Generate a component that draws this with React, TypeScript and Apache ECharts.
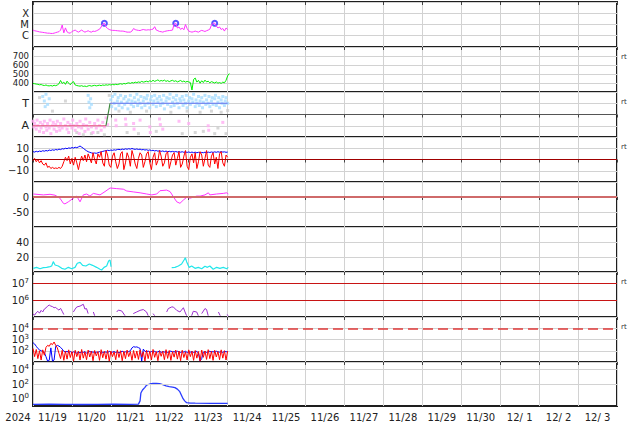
import React, { useEffect, useRef } from 'react';
import * as echarts from 'echarts';

// ---------- axis / text labels ----------
const dayLabels = ['11/19', '11/20', '11/21', '11/22', '11/23', '11/24', '11/25', '11/26', '11/27', '11/28', '11/29', '11/30', '12/ 1', '12/ 2', '12/ 3'];
const yearLabel = '2024';
const xrayClassLabels: Record<number, string> = { [-6]: 'C', [-5]: 'M', [-4]: 'X' };
const sectorLabels: Record<number, string> = { 1: 'T', [-1]: 'A' };
const rtPanels = [1, 2, 3, 6, 7];

// ---------- data (x = hours since 2024-11-19 00:00) ----------
// X-ray flux, hourly, in units of 1e-6 W/m2
const xrayHourly = [
  3.2, 2.8, 2.6, 2.4, 2.2, 2.1, 2.0, 1.9, 1.8, 1.7,
  1.7, 1.6, 1.6, 1.7, 1.9, 2.1, 2.3, 3.2, 9.0, 1.8,
  5.0, 2.2, 1.8, 1.7, 2.4, 2.8, 3.2, 2.5, 2.1, 2.6,
  3.2, 2.5, 2.1, 2.4, 2.8, 2.3, 2.1, 2.6, 2.4, 2.7,
  3.2, 3.8, 6.0, 11, 13, 6.0, 4.4, 3.6, 3.2, 3.0,
  3.0, 2.9, 2.8, 2.7, 2.6, 2.6, 2.5, 2.3, 2.1, 2.1,
  2.1, 2.6, 4.4, 3.5, 3.2, 3.0, 2.9, 3.3, 3.6, 3.3,
  3.2, 3.4, 3.3, 3.6, 3.9, 6.4, 3.2, 2.8, 2.4, 2.3,
  2.1, 2.4, 2.6, 2.8, 2.9, 3.0, 3.2, 11, 13, 4.9,
  6.0, 3.6, 4.9, 3.4, 10, 4.4, 2.6, 2.3, 2.1, 2.3,
  2.6, 2.3, 2.1, 2.6, 3.0, 2.7, 2.4, 2.8, 3.2, 3.8,
  9.0, 13, 13, 7.3, 4.9, 6.0, 3.6, 4.4, 2.6, 4.9, 3.6,
];
const flareHours = [44, 88, 112];
const flareFlux = [13, 13, 13];

// Solar wind speed km/s, hourly
const speedHourly = [
  396, 392, 388, 385, 380, 383, 376, 372, 378, 370,
  368, 372, 366, 375, 370, 378, 392, 428, 395, 410,
  385, 420, 398, 380, 405, 415, 378, 372, 368, 365,
  370, 362, 366, 360, 368, 372, 365, 370, 374, 368,
  372, 376, 370, 378, 374, 380, 376, 382, 378, 384,
  380, 386, 382, 388, 392, 386, 395, 390, 398, 402,
  396, 405, 400, 410, 404, 412, 406, 418, 410, 414,
  420, 412, 425, 416, 430, 418, 426, 435, 420, 428,
  422, 432, 418, 426, 415, 424, 430, 418, 425, 412,
  420, 428, 414, 422, 410, 418, 412, 405, 322, 440,
  455, 410, 430, 398, 425, 405, 432, 412, 420, 402,
  415, 408, 400, 412, 398, 405, 396, 410, 402, 430, 480, 505,
];

// Sector: +1 = T, -1 = A
const sectorHours = [0, 45, 47.5, 120];
const sectorValues = [-1, -1, 1, 1];
const sectorTowardDots = [
  [6, 1.6], [7, 1.2], [7.5, 0.7], [8, 1.8], [9, 0.9], [10, 1.4], [34, 1.7], [34.5, 1.1], [35, 0.6], [35.5, 1.4], [36, 0.9],
  [48, 1.3], [48.5, 0.7], [49, 1.6], [50, 1.0], [50.5, 1.8], [51, 0.5], [52, 1.2], [52.5, 1.5], [53, 0.8], [54, 1.7], [54.5, 1.1],
  [55, 0.6], [56, 1.4], [56.5, 0.9], [57, 1.6], [58, 1.1], [58.5, 0.5], [59, 1.3], [60, 1.7], [60.5, 0.9], [61, 1.2], [62, 0.7],
  [62.5, 1.5], [63, 1.1], [64, 1.8], [64.5, 0.8], [65, 1.3], [66, 1.0], [66.5, 1.6], [67, 0.6], [68, 1.2], [68.5, 1.5], [69, 0.8],
  [70, 1.4], [70.5, 1.7], [71, 1.0], [72, 0.6], [72.5, 1.3], [73, 1.6], [74, 0.9], [74.5, 1.2], [75, 1.7], [76, 0.7], [76.5, 1.4],
  [77, 1.1], [78, 1.6], [78.5, 0.8], [79, 1.3], [80, 1.0], [80.5, 1.7], [81, 0.5], [82, 1.2], [82.5, 1.5], [83, 0.9], [84, 1.4],
  [84.5, 1.8], [85, 0.7], [86, 1.1], [86.5, 1.5], [87, 0.8], [88, 1.3], [88.5, 1.7], [89, 1.0], [90, 0.6], [90.5, 1.4], [91, 1.2],
  [92, 1.6], [92.5, 0.8], [93, 1.3], [94, 1.0], [94.5, 1.7], [95, 0.6], [96, 1.2], [96.5, 1.5], [97, 0.9], [98, 1.4], [98.5, 1.1],
  [99, 1.8], [100, 0.7], [100.5, 1.3], [101, 1.0], [102, 1.6], [102.5, 0.8], [103, 1.2], [104, 1.5], [104.5, 0.6], [105, 1.1],
  [106, 1.7], [106.5, 0.9], [107, 1.3], [108, 1.0], [108.5, 1.6], [109, 0.7], [110, 1.2], [110.5, 1.5], [111, 0.9], [112, 1.4],
  [112.5, 1.7], [113, 0.8], [114, 1.1], [114.5, 1.5], [115, 0.6], [116, 1.3], [116.5, 1.0], [117, 1.6], [118, 0.8], [118.5, 1.2],
  [119, 1.5], [120, 1.0],
];
const sectorAwayDots = [
  [0, -0.6], [0.5, -1.1], [1, -0.8], [2, -1.3], [2.5, -0.5], [3, -1.0], [4, -1.5], [4.5, -0.7], [5, -1.2], [6, -0.9], [6.5, -1.6],
  [7, -0.6], [8, -1.1], [8.5, -1.4], [9, -0.8], [10, -1.2], [10.5, -0.5], [11, -1.7], [12, -1.0], [12.5, -0.7], [13, -1.3],
  [14, -0.9], [14.5, -1.5], [15, -0.6], [16, -1.1], [16.5, -1.4], [17, -0.8], [18, -1.2], [19, -0.4], [20, -1.0], [21, -1.3],
  [21.5, -0.7], [22, -1.6], [23, -0.9], [24, -1.2], [24.5, -0.5], [25, -1.0], [26, -1.4], [27, -0.8], [28, -1.1], [28.5, -1.7],
  [29, -0.6], [30, -1.2], [31, -0.9], [32, -1.5], [32.5, -0.4], [33, -1.0], [34, -1.3], [35, -0.7], [36, -1.1], [37, -1.6],
  [38, -0.8], [39, -1.2], [40, -0.5], [41, -1.0], [42, -1.4], [43, -0.7], [44, -1.1], [45, -0.3], [46, -0.9],
  [51, -0.5], [51.3, -1.0], [57, -0.4], [57.3, -0.9], [62, -0.8], [62.3, -1.3], [66, -0.5], [72, -1.1], [72.3, -1.6],
  [78, -0.4], [78.5, -0.9], [80, -1.3], [90, -0.6], [96, -0.8], [108, -1.0], [108.3, -1.4], [117, -0.7],
];
const sectorGrayDots = [
  [4, 1.5], [12, 0.3], [20, 1.2], [27, -1.6], [31, -1.8], [36, -1.7], [40, -1.6], [44, -1.8], [47, 1.7], [53, 0.3], [58, -1.6],
  [60, 0.2], [65, -1.7], [70, 0.3], [76, -1.5], [85, 0.2], [92, -1.7], [95, 0.3], [100, -1.6], [103, 0.2], [105, -1.5],
  [110, 0.3], [112, -1.7], [114, -1.2], [116, 0.2], [119, -1.7], [120, 0.35],
];

// IMF Bt and Bz (nT), hourly
const btHourly = [
  7.0, 6.6, 7.3, 6.8, 7.5, 7.1, 7.8, 7.4, 8.0, 7.6,
  8.4, 8.0, 8.6, 8.2, 8.9, 8.5, 9.2, 8.8, 9.6, 9.3,
  10.0, 9.6, 10.3, 10.0, 10.6, 10.2, 10.9, 10.5, 11.2, 12.0,
  11.0, 10.0, 8.8, 7.8, 6.9, 6.4, 5.9, 5.5, 5.8, 5.5,
  6.0, 6.4, 6.8, 7.2, 7.6, 7.8, 8.2, 7.9, 8.4, 8.1,
  8.6, 8.3, 8.9, 9.0, 8.7, 9.3, 8.9, 9.5, 9.1, 9.6,
  9.2, 9.8, 9.3, 9.0, 9.4, 8.9, 9.2, 8.6, 8.9, 8.4,
  8.7, 8.1, 8.5, 7.9, 8.2, 7.6, 8.0, 7.4, 7.8, 7.2,
  7.6, 7.0, 7.5, 6.9, 7.3, 6.8, 7.2, 6.7, 7.1, 6.6,
  7.0, 6.5, 6.9, 6.4, 6.8, 6.3, 6.7, 6.2, 6.6, 6.1,
  6.5, 6.0, 6.4, 5.9, 6.3, 6.0, 6.5, 6.1, 6.6, 6.2,
  6.7, 6.3, 6.8, 6.4, 6.9, 6.5, 7.0, 6.6, 6.8, 6.4, 6.6,
];
const bzHourly = [
  -1, 1, -2, 0, -3, -1, -4, -5, -3, -7,
  -6, -8, -7, -8, -7.5, -8, -7, -8, -6, -2,
  2, -1, 3, -4, 1, -5, 2, -3, -9, -2,
  3, -1, 4, -2, 5, 1, -3, 6, 0, -4,
  5, 2, 7, -3, -6, 8, 4, -5, -7, 3,
  6, -2, -8, -4, 5, 7, -9, -3, 6, 2,
  -6, 8, 3, -4, -8, 1, 6, 4, -7, -2,
  5, 7, -3, -9, 2, 6, -5, -1, 8, 3,
  -6, -3, 5, 7, -8, -2, 4, 6, -5, 1,
  7, -7, -4, 3, 8, -6, -9, 2, 5, -3,
  6, -8, -2, 7, 4, -6, 1, 8, -5, -7,
  3, 6, -4, 2, -8, 5, 7, -3, -6, 4, 2,
];

// Dst (nT)
const dstHours = [0.2, 6.4, 10.5, 13.6, 16.6, 18.7, 19.7, 21.8, 24.9, 26.9, 29, 31, 33.1, 35.1, 37.2, 41.3, 44.4, 47.5, 51.6, 55.7, 57.8, 61.8, 66, 70.1, 73.2, 76.3, 78.3, 82.4, 84.5, 86.5, 88.6, 90.6, 92.7, 94.8, 96.8, 100.9, 103, 106, 108.1, 109, 113.2, 117.3, 119.4, 120.4];
const dstValues = [10, 7, 9, 6, -4, -21, -23, -16, -4, 3, -16, 7, 10, 3, 12, 7, 18, 30, 28, 26, 20, 17, 14, 10, 7, 10, 21, 23, 18, 1, -16, -21, -10, -1, -4, 3, 3, 7, 14, 7, 10, 12, 14, 10];

// cyan index (null = gap)
const cyanHours = [0.2, 2.2, 4.3, 6.4, 8.4, 10.5, 11.5, 12.5, 13.6, 15.6, 17.7, 19.7, 21.8, 23.8, 25.9, 27.3, 29, 30.6, 32.6, 34.7, 36.7, 39.2, 41.3, 42.3, 43.8, 45.4, 46.6, 47.5, 48.1,
  66,
  85.5, 87.5, 89.6, 91.6, 93.1, 93.9, 94.7, 96.2, 97.8, 99.9, 101.9, 104, 106, 107.5, 109, 111.1, 113.2, 115.2, 117.3, 119.4, 120.4];
const cyanValues = [4.9, 6.2, 4.4, 5.8, 6.2, 7.1, 8, 13.8, 9.3, 8, 4.9, 3.6, 6.2, 4.4, 6.2, 11.6, 12.9, 8.9, 8, 10.7, 8.9, 6.2, 3.6, 2.7, 6.2, 8, 14.7, 16, 7,
  null,
  5.8, 6.2, 8, 10.7, 16, 19, 13.8, 6.2, 8, 4.9, 6.2, 4.4, 7.6, 6.2, 8, 3.6, 6.2, 4.9, 6.2, 4.4, 6.2];

// electron flux (units of 1e5), null = gap
const elecHours = [0, 1, 2, 3, 4, 5, 6, 7, 8, 9, 10, 11, 12, 13, 14, 15, 16, 17, 18, 19, 21, 24.9, 26, 27, 29, 31, 32, 33, 34, 35.5, 37.2, 38, 40, 51.6, 52.6, 54.7, 56.7, 58, 61.8, 63.9, 66, 68, 70, 71, 72.5, 74, 75, 78, 82.4, 83.4, 85.5, 86.5, 88.6, 90.6, 92.7, 93.7, 94.7, 96, 97.8, 98.8, 100.9, 101.9, 103, 104, 106, 107, 108, 110, 114.3, 115.4, 117, 119.5, 120.4];
const elecValues = [1.5, 1.3, 1.8, 2.2, 1.7, 2.5, 2.0, 3.0, 3.5, 4.5, 5.2, 4.5, 4.2, 3.6, 3.8, 3.0, 2.6, 3.3, 2.2, 1.4, null, 2.0, 3.0, 4.0, 4.5, 5.8, 3.0, 3.2, 1.6, null, 2.0, 1.2, null, 2.0, 2.6, 2.3, 1.2, null, 1.6, 2.0, 2.5, 2.8, 2.0, 1.2, null, 1.6, 1.2, null, 2.0, 3.2, 4.0, 4.0, 2.5, 2.0, 3.6, 2.0, 1.2, null, 1.2, 2.2, 2.0, 1.2, null, 1.6, 3.2, 2.8, 1.2, null, 2.0, 1.2, null, 1.4, 1.2];

// low-energy particle flux, hourly
const lowBlueHourly = [
  520, 400, 250, 160, 120, 100, 85, 70, 30, 12,
  14, 180, 12, 15, 250, 300, 260, 200, 140, 90,
  75, 90, 70, 85, 65, 80, 70, 60, 75, 65,
  80, 70, 85, 60, 75, 90, 70, 80, 65, 75,
  70, 85, 60, 75, 70, 80, 65, 90, 70, 75,
  85, 70, 80, 65, 75, 90, 70, 80, 75, 85,
  100, 180, 230, 210, 220, 190, 160, 12, 140, 90,
  80, 95, 70, 85, 75, 90, 70, 80, 95, 70,
  85, 75, 90, 70, 80, 95, 75, 85, 70, 90,
  80, 70, 85, 75, 90, 70, 80, 75, 85, 70,
  80, 90, 60, 12, 20, 75, 85, 70, 80, 90,
  75, 85, 70, 90, 80, 75, 85, 70, 90, 80, 85,
];
const lowRedHourly = [
  160, 30, 130, 20, 100, 15, 120, 40, 200, 300,
  250, 450, 350, 600, 300, 180, 60, 20, 110, 14,
  95, 18, 120, 25, 85, 12, 110, 30, 90, 15,
  130, 22, 80, 16, 115, 28, 95, 13, 105, 35,
  85, 14, 125, 24, 90, 18, 110, 12, 95, 30,
  80, 16, 120, 25, 100, 13, 90, 20, 115, 30,
  85, 14, 105, 22, 95, 17, 120, 28, 80, 12,
  110, 20, 95, 15, 130, 26, 85, 13, 100, 32,
  90, 16, 125, 21, 105, 14, 85, 27, 115, 18,
  95, 13, 110, 25, 80, 15, 120, 30, 90, 14,
  105, 22, 85, 12, 115, 26, 95, 17, 125, 20,
  90, 14, 110, 28, 85, 16, 120, 22, 100, 15, 95,
];

// proton flux
const protonHours = [0, 10, 20, 30, 40, 50, 60, 65, 66, 66.5, 67.5, 69, 70, 72, 74, 76, 78, 80, 82, 84, 86, 87.5, 89, 90.5, 91.5, 92.5, 93.5, 94.7, 97, 100, 110, 120];
const protonValues = [0.17, 0.18, 0.17, 0.16, 0.17, 0.18, 0.17, 0.18, 0.5, 6, 15, 35, 70, 100, 120, 125, 110, 80, 55, 45, 38, 32, 20, 9, 3, 1, 0.5, 0.28, 0.25, 0.24, 0.23, 0.23];

// ---------- layout ----------
const FONT = 'DejaVu Sans';
const LEFT = 33;
const RIGHT = 17;
const TOP0 = 2;
const PH = 45;
const NP = 9;

const H = (arr: number[]) => arr.map((v, i) => [i, v]);
const P = (hs: number[], vs: (number | null)[]) => hs.map((h, i) => [h, vs[i]]);

const supRich = {
  b: { fontSize: 10, fontFamily: FONT, color: '#222' },
  s: { fontSize: 7, fontFamily: FONT, color: '#222', verticalAlign: 'top' as const, padding: [0, 0, 5, 0] },
};
const expLabel = (shown: number[]) => (v: number) => {
  const e = Math.log10(v);
  const r = Math.round(e);
  if (Math.abs(e - r) > 1e-6 || !shown.includes(r)) return '';
  return `{b|10}{s|${r}}`;
};
const hline = (y: number, color: string, width: number, type: any = 'solid') => ({
  silent: true,
  symbol: ['none', 'none'],
  label: { show: false },
  lineStyle: { color, width, type },
  data: [{ yAxis: y }],
});

export default function App() {
  const ref = useRef<HTMLDivElement>(null);
  useEffect(() => {
    if (!ref.current) return;
    const chart = echarts.init(ref.current, undefined, { renderer: 'svg' });

    const grids = Array.from({ length: NP }, (_, i) => ({
      left: LEFT,
      right: RIGHT,
      top: TOP0 + PH * i,
      height: i === NP - 1 ? PH - 1 : PH,
      show: true,
      borderColor: '#1e1e1e',
      borderWidth: 2,
      backgroundColor: '#fff',
    }));

    const xAxes: any[] = Array.from({ length: NP }, (_, i) => ({
      gridIndex: i,
      type: 'value',
      min: 0,
      max: 360,
      interval: 24,
      position: 'top',
      axisLabel: { show: false },
      axisLine: { show: false },
      axisTick: { show: true, inside: true, length: 3, lineStyle: { color: '#444' } },
      splitLine: { show: true, lineStyle: { color: '#d2d2d2', width: 1 } },
    }));
    xAxes.push({
      gridIndex: NP - 1,
      type: 'category',
      data: dayLabels,
      boundaryGap: true,
      position: 'bottom',
      axisLine: { show: false },
      axisTick: { show: false },
      splitLine: { show: false },
      axisLabel: { interval: 0, fontSize: 10, fontFamily: FONT, color: '#222', margin: 6 },
    });

    const baseY = (i: number, extra: any) => ({
      gridIndex: i,
      axisLine: { show: false },
      axisTick: { show: false },
      splitLine: { show: true, lineStyle: { color: '#d2d2d2', width: 1 } },
      ...extra,
      axisLabel: { fontSize: 10, fontFamily: FONT, color: '#222', margin: 4, ...(extra.axisLabel || {}) },
    });

    const yAxes = [
      baseY(0, {
        type: 'log', logBase: 10, min: 1e-7, max: 1e-3,
        axisLabel: { fontSize: 10, lineHeight: 10, formatter: (v: number) => xrayClassLabels[Math.round(Math.log10(v))] || '' },
      }),
      baseY(1, {
        type: 'value', min: 300, max: 800, interval: 100,
        axisLabel: { fontSize: 8.5, lineHeight: 8, formatter: (v: number) => (v >= 400 && v <= 700 ? String(v) : '') },
      }),
      baseY(2, {
        type: 'value', min: -2, max: 2, interval: 1,
        axisLabel: { fontSize: 11, formatter: (v: number) => sectorLabels[v] || '' },
      }),
      baseY(3, {
        type: 'value', min: -20, max: 20, interval: 10,
        axisLabel: { formatter: (v: number) => (v === 10 ? '10' : v === 0 ? '0' : v === -10 ? '\u221210' : '') },
      }),
      baseY(4, {
        type: 'value', min: -100, max: 50, interval: 50,
        axisLabel: { formatter: (v: number) => (v === 0 ? '0' : v === -50 ? '-50' : '') },
      }),
      baseY(5, {
        type: 'value', min: 0, max: 60, interval: 20,
        axisLabel: { formatter: (v: number) => (v === 20 || v === 40 ? String(v) : '') },
      }),
      baseY(6, {
        type: 'log', logBase: 10, min: 1e5, max: 5e7,
        splitLine: { show: false },
        axisLabel: { formatter: expLabel([6, 7]), rich: supRich },
      }),
      baseY(7, {
        type: 'log', logBase: 10, min: 10, max: 1e5,
        axisLabel: { formatter: expLabel([2, 3, 4]), rich: supRich },
      }),
      baseY(8, {
        type: 'log', logBase: 10, min: 0.1, max: 1e5,
        splitLine: { show: false },
        axisLabel: { formatter: expLabel([0, 2, 4]), rich: supRich },
      }),
    ];

    const line = (i: number, data: any[], color: string, width = 1, extra: any = {}) => ({
      type: 'line',
      xAxisIndex: i,
      yAxisIndex: i,
      data,
      showSymbol: false,
      symbol: 'none',
      connectNulls: false,
      clip: true,
      lineStyle: { color, width },
      itemStyle: { color },
      ...extra,
    });
    const dots = (i: number, data: any[], color: string, size = 3) => ({
      type: 'scatter',
      xAxisIndex: i,
      yAxisIndex: i,
      data,
      symbol: 'rect',
      symbolSize: size,
      itemStyle: { color },
      silent: true,
    });

    const sectorPts = P(sectorHours, sectorValues);

    const series: any[] = [
      // 0: X-ray
      line(0, H(xrayHourly.map((v) => v * 1e-6)), '#ff33ff', 1),
      {
        type: 'scatter', xAxisIndex: 0, yAxisIndex: 0,
        data: P(flareHours, flareFlux.map((v) => v * 1e-6)),
        symbol: 'emptyCircle', symbolSize: 5,
        itemStyle: { color: '#2a2aff', borderColor: '#2a2aff', borderWidth: 1.2 },
      },
      // 1: speed
      line(1, H(speedHourly), '#00ee00', 1),
      // 2: sector
      dots(2, sectorGrayDots, '#cdcdcd', 3),
      dots(2, sectorAwayDots, '#ffadf2', 3),
      dots(2, sectorTowardDots, '#a6dcff', 3),
      line(2, sectorPts.slice(0, 2), '#e6507a', 1.2, { markLine: hline(0, '#555', 1) }),
      line(2, sectorPts.slice(1, 3), '#3f8a3f', 1.2),
      line(2, sectorPts.slice(2, 4), '#6272f2', 1.2),
      // 3: IMF
      line(3, H(btHourly), '#0000ff', 1, { markLine: hline(0, '#a00000', 1) }),
      line(3, H(bzHourly), '#ff0000', 1),
      // 4: Dst
      line(4, P(dstHours, dstValues), '#ff33ff', 1, { markLine: hline(0, '#cf6a6a', 2) }),
      // 5: cyan
      line(5, P(cyanHours, cyanValues), '#22e6ea', 1.2),
      // 6: electrons
      line(6, P(elecHours, elecValues.map((v) => (v == null ? null : v * 1e5))), '#9b30d0', 1, {
        markLine: { ...hline(1e6, '#c81414', 1), data: [{ yAxis: 1e6 }, { yAxis: 1e7 }] },
      }),
      // 7: low-energy particles
      line(7, H(lowBlueHourly), '#0000ff', 1),
      line(7, H(lowRedHourly), '#ff0000', 1, { markLine: hline(1e4, '#e03a3a', 1.5, [10, 5]) }),
      // 8: protons
      line(8, P(protonHours, protonValues), '#2a3cff', 1.3, {
        markLine: { ...hline(100, '#d2d2d2', 1), data: [{ yAxis: 100 }, { yAxis: 1e4 }] },
      }),
    ];

    const graphics: any[] = rtPanels.map((p) => ({
      type: 'text',
      x: 621,
      y: TOP0 + PH * p + 10,
      silent: true,
      style: { text: 'rt', fontSize: 7, fontFamily: FONT, fill: '#333', textVerticalAlign: 'middle', verticalAlign: 'middle' },
    }));
    graphics.push({
      type: 'text',
      x: 18,
      y: 417,
      silent: true,
      style: {
        text: yearLabel, fontSize: 10, fontFamily: FONT, fill: '#222',
        textAlign: 'center', align: 'center', textVerticalAlign: 'middle', verticalAlign: 'middle',
      },
    });

    chart.setOption({
      animation: false,
      backgroundColor: '#fff',
      textStyle: { fontFamily: FONT },
      grid: grids,
      xAxis: xAxes,
      yAxis: yAxes,
      series,
      graphic: graphics,
    });
    return () => chart.dispose();
  }, []);

  return (
    <div
      ref={ref}
      style={{ position: 'fixed', left: 0, top: 0, width: 634, height: 424, background: '#fff' }}
    />
  );
}
